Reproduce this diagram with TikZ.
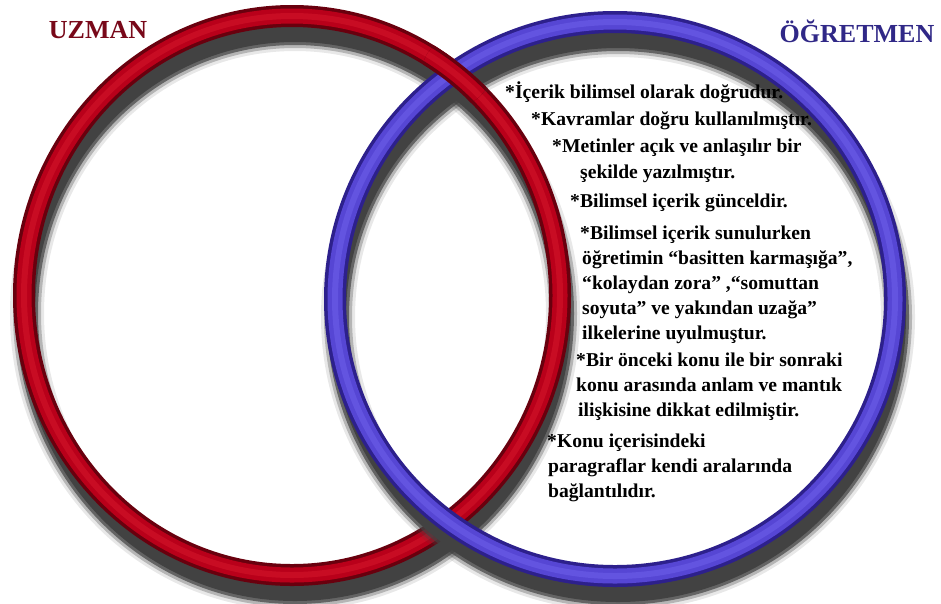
\documentclass[tikz,border=0pt]{standalone}
\usepackage{fontspec}
\setmainfont{Liberation Serif}
\definecolor{reddark}{RGB}{105,0,14}
\definecolor{redmain}{RGB}{185,0,26}
\definecolor{redlight}{RGB}{215,25,45}
\definecolor{bluedark}{RGB}{45,32,140}
\definecolor{bluemain}{RGB}{86,70,212}
\definecolor{bluelight}{RGB}{112,98,236}
\definecolor{shadowgrey}{RGB}{66,66,66}
\definecolor{uzmancol}{RGB}{120,8,25}
\definecolor{ogrcol}{RGB}{48,40,135}
\tikzset{
  bodytext/.style={anchor=base west, inner sep=0pt, font=\fontsize{19.6}{24}\selectfont\bfseries, text=black},
  titletext/.style={anchor=base, inner sep=0pt, font=\fontsize{26}{26}\selectfont\bfseries},
}
\newcommand{\redring}{(292,295.5) ellipse [x radius=268pt, y radius=279.5pt]}
\newcommand{\bluering}{(615,299) ellipse [x radius=280pt, y radius=277pt]}
\begin{document}
\begin{tikzpicture}[x=1pt,y=-1pt]
\useasboundingbox (0,0) rectangle (941,603);
\fill[white] (0,0) rectangle (941,603);
% red shadow
\begin{scope}[shift={(3,18)}]
  \foreach \w/\o in {34/0.12, 28/0.3, 22/0.7, 16/1}
    \draw[shadowgrey, line width=\w pt, opacity=\o] \redring;
\end{scope}
% red ring
\draw[reddark, line width=22pt] \redring;
\draw[redmain, line width=15pt] \redring;
\draw[redlight, line width=6pt, opacity=0.5] \redring;
% blue shadow
\begin{scope}[shift={(3,18)}]
  \foreach \w/\o in {34/0.12, 28/0.3, 22/0.7, 16/1}
    \draw[shadowgrey, line width=\w pt, opacity=\o] \bluering;
\end{scope}
% blue ring
\draw[bluedark, line width=22pt] \bluering;
\draw[bluemain, line width=15pt] \bluering;
\draw[bluelight, line width=6pt, opacity=0.5] \bluering;
% red over blue at the top crossing
\begin{scope}
  \clip (456,72) circle (34pt);
  \draw[reddark, line width=22pt] \redring;
  \draw[redmain, line width=15pt] \redring;
  \draw[redlight, line width=6pt, opacity=0.5] \redring;
\end{scope}
% titles
\node[titletext, text=uzmancol] (uzman) at (98,38) {UZMAN};
\node[titletext, text=ogrcol] (ogretmen) at (857,42) {ÖĞRETMEN};
% body text
\node[bodytext] (l1) at (505,98) {*İçerik bilimsel olarak doğrudur.};
\node[bodytext] (l2) at (531,125) {*Kavramlar doğru kullanılmıştır.};
\node[bodytext] (l3) at (552,152) {*Metinler açık ve anlaşılır bir};
\node[bodytext] (l4) at (580,178) {şekilde yazılmıştır.};
\node[bodytext] (l5) at (570,207) {*Bilimsel içerik günceldir.};
\node[bodytext] (l6) at (580,239) {*Bilimsel içerik sunulurken};
\node[bodytext] (l7) at (582,264) {öğretimin “basitten karmaşığa”,};
\node[bodytext] (l8) at (582,289) {“kolaydan zora” ,“somuttan};
\node[bodytext] (l9) at (582,314) {soyuta” ve yakından uzağa”};
\node[bodytext] (l10) at (582,339) {ilkelerine uyulmuştur.};
\node[bodytext] (l11) at (576,366) {*Bir önceki konu ile bir sonraki};
\node[bodytext] (l12) at (576,391) {konu arasında anlam ve mantık};
\node[bodytext] (l13) at (578,416) {ilişkisine dikkat edilmiştir.};
\node[bodytext] (l14) at (547,447) {*Konu içerisindeki};
\node[bodytext] (l15) at (548,472) {paragraflar kendi aralarında};
\node[bodytext] (l16) at (548,497) {bağlantılıdır.};
\end{tikzpicture}
\end{document}
